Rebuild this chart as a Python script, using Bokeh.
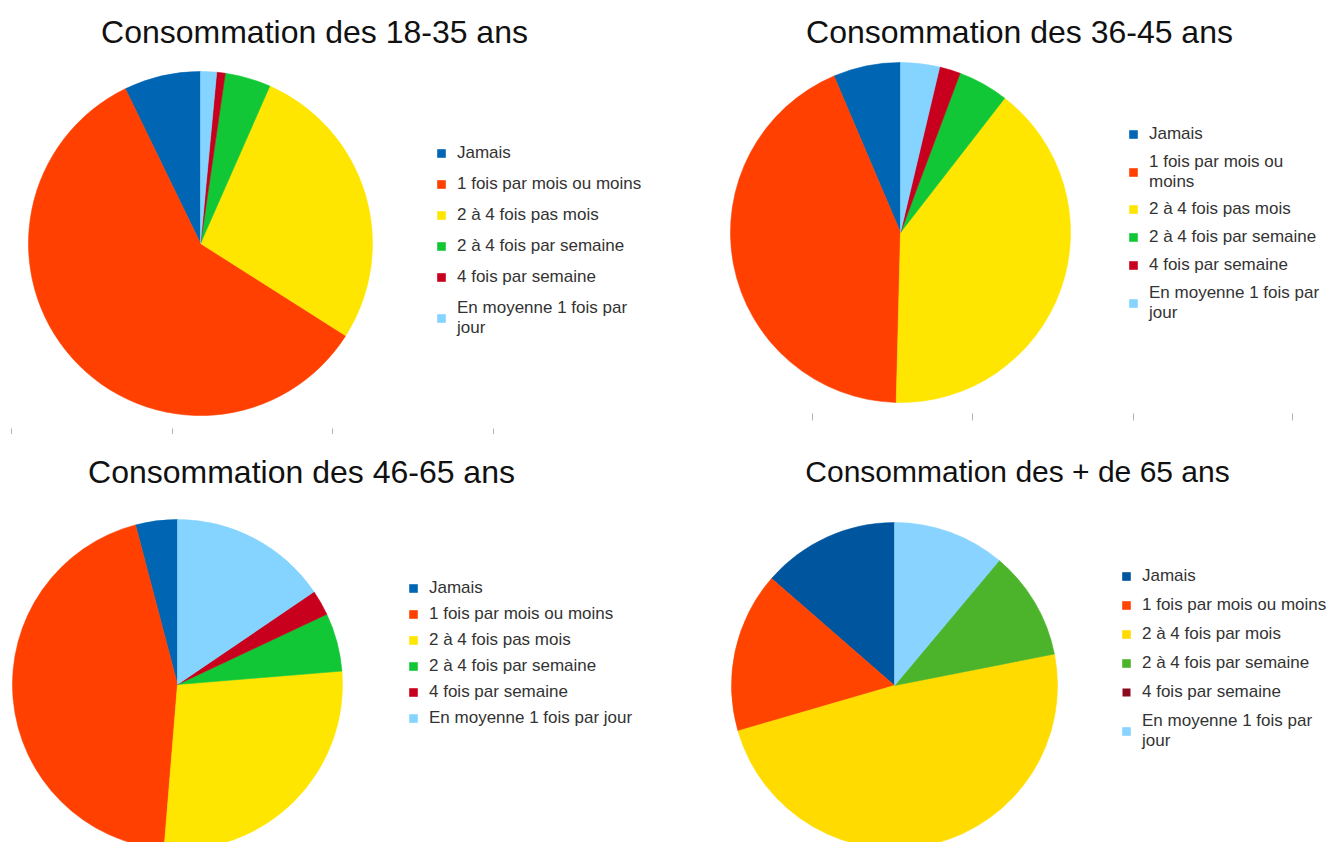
import math
from bokeh.plotting import figure
from bokeh.models import (ColumnDataSource, Legend, LegendItem, Label, Range1d)
from bokeh.layouts import column, row
from bokeh.embed import file_html
from bokeh.resources import INLINE

# ---------------- data ----------------
categories = ["Jamais", "1 fois par mois ou moins", "2 à 4 fois pas mois",
              "2 à 4 fois par semaine", "4 fois par semaine",
              "En moyenne 1 fois par jour"]

titles = ["Consommation des 18-35 ans", "Consommation des 36-45 ans",
          "Consommation des 46-65 ans", "Consommation des + de 65 ans"]

labels_1835 = ["Jamais", "1 fois par mois ou moins", "2 à 4 fois pas mois",
               "2 à 4 fois par semaine", "4 fois par semaine",
               "En moyenne 1 fois par\njour"]
labels_3645 = ["Jamais", "1 fois par mois ou\nmoins", "2 à 4 fois pas mois",
               "2 à 4 fois par semaine", "4 fois par semaine",
               "En moyenne 1 fois par\njour"]
labels_4665 = ["Jamais", "1 fois par mois ou moins", "2 à 4 fois pas mois",
               "2 à 4 fois par semaine", "4 fois par semaine",
               "En moyenne 1 fois par jour"]
labels_65 = ["Jamais", "1 fois par mois ou moins", "2 à 4 fois par mois",
             "2 à 4 fois par semaine", "4 fois par semaine",
             "En moyenne 1 fois par\njour"]

values_1835 = [7.2, 58.8, 27.4, 4.3, 0.8, 1.5]
values_3645 = [6.4, 43.2, 39.9, 4.8, 2.0, 3.7]
values_4665 = [4.1, 44.6, 27.6, 5.7, 2.5, 15.5]
values_65 = [13.6, 15.9, 48.6, 10.8, 0.0, 11.1]

colors_a = ["#0066b3", "#ff4000", "#ffe600", "#12c736", "#c8001e", "#85d4ff"]
colors_b = ["#00559f", "#ff4400", "#ffdb00", "#4cb42a", "#8b0a1e", "#88d3ff"]

FONT = "Liberation Sans"


def make_panel(x0, x1, y0, y1, title, title_x, title_y, title_size, values,
               labels, colors, cx, cy, r, leg_left, leg_top, leg_spacing,
               leg_est_h, ticks=None, tick_y=None):
    p = figure(width=x1 - x0, height=y1 - y0,
               x_range=Range1d(x0, x1), y_range=Range1d(-y1, -y0),
               x_axis_type=None, y_axis_type=None,
               output_backend="svg", toolbar_location=None, min_border=0,
               outline_line_color=None, background_fill_color="white",
               border_fill_color="white")

    total = float(sum(values))
    starts, ends, acc = [], [], 0.0
    for v in values:
        s = math.pi / 2 + 2 * math.pi * acc / total
        acc += v
        e = math.pi / 2 + 2 * math.pi * acc / total
        if e - s < 1e-6:          # an empty slice must not become a full disc
            e = s + 1e-6
        starts.append(s)
        ends.append(e)
    src = ColumnDataSource(dict(cat=labels, value=values, start=starts, end=ends,
                                color=colors,
                                lalpha=[1.0 if v > 0 else 0.0 for v in values]))
    wr = p.wedge(x=cx, y=-cy, radius=r, start_angle="start", end_angle="end",
                 direction="anticlock", fill_color="color", line_color="color",
                 line_alpha="lalpha", line_width=0.6, source=src)

    p.add_layout(Label(x=title_x, y=-title_y, text=title, text_align="center",
                       text_baseline="alphabetic", text_font=FONT,
                       text_font_size=title_size, text_color="#111111"))

    items = [LegendItem(label=lab, renderers=[wr], index=i)
             for i, lab in enumerate(labels)]
    leg_bottom = leg_top + leg_est_h
    legend = Legend(items=items, location=(leg_left - x0, y1 - leg_bottom),
                    padding=0, margin=0, spacing=leg_spacing,
                    glyph_width=10, glyph_height=10, label_height=21,
                    label_standoff=11, label_text_font=FONT,
                    label_text_font_size="17px", label_text_color="#333333",
                    border_line_color=None, background_fill_alpha=0)
    p.add_layout(legend, "center")

    if ticks:
        p.segment(x0=ticks, y0=[-tick_y] * len(ticks), x1=ticks,
                  y1=[-(tick_y + 7)] * len(ticks),
                  line_color="#b4b4b4", line_width=1)
    return p


p1 = make_panel(0, 666, 0, 434, titles[0], 314, 31, "32px", values_1835,
                labels_1835, colors_a, 200, 243, 172, 436, 141.5, 10, 196,
                ticks=[11, 172, 332, 493], tick_y=428)
p2 = make_panel(666, 1330, 0, 434, titles[1], 1019, 31, "32px", values_3645,
                labels_3645, colors_a, 900, 232, 170, 1128, 122.5, 7, 200,
                ticks=[812, 972, 1133, 1292], tick_y=413)
p3 = make_panel(0, 666, 434, 842, titles[2], 301, 471, "32px", values_4665,
                labels_4665, colors_a, 177, 684, 165, 408, 576.5, 5, 152)
p4 = make_panel(666, 1330, 434, 842, titles[3], 1017, 471, "30px", values_65,
                labels_65, colors_b, 894, 685, 163, 1121, 564.5, 8, 186)

layout = column(row(p1, p2), row(p3, p4))

with open("out.html", "w") as f:
    f.write(file_html(layout, INLINE, title="Consommation"))
